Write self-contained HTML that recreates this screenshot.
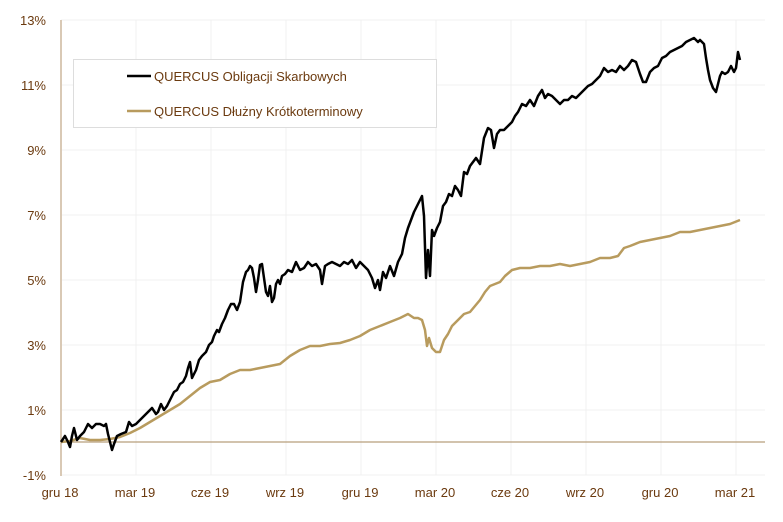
<!DOCTYPE html><html><head><meta charset="utf-8"><style>body{margin:0;background:#fff}svg{display:block;font-family:"Liberation Sans",sans-serif}</style></head><body>
<svg width="783" height="522" viewBox="0 0 783 522">
<g stroke="#f0f0f0" stroke-width="1">
<line x1="61" y1="20" x2="765" y2="20"/><line x1="61" y1="85" x2="765" y2="85"/><line x1="61" y1="150" x2="765" y2="150"/><line x1="61" y1="215" x2="765" y2="215"/><line x1="61" y1="280" x2="765" y2="280"/><line x1="61" y1="345" x2="765" y2="345"/><line x1="61" y1="410" x2="765" y2="410"/><line x1="61" y1="475" x2="765" y2="475"/>
<line x1="136" y1="20" x2="136" y2="475"/><line x1="211" y1="20" x2="211" y2="475"/><line x1="286" y1="20" x2="286" y2="475"/><line x1="361" y1="20" x2="361" y2="475"/><line x1="436" y1="20" x2="436" y2="475"/><line x1="511" y1="20" x2="511" y2="475"/><line x1="586" y1="20" x2="586" y2="475"/><line x1="661" y1="20" x2="661" y2="475"/><line x1="736" y1="20" x2="736" y2="475"/>
</g>
<line x1="61" y1="20" x2="61" y2="476" stroke="#d9c9b5" stroke-width="2"/>
<line x1="61" y1="442" x2="765" y2="442" stroke="#b89f7c" stroke-width="1.2"/>
<g fill="#6b3a0f" font-size="13" text-anchor="end">
<text x="46" y="25">13%</text><text x="46" y="90">11%</text><text x="46" y="155">9%</text><text x="46" y="220">7%</text><text x="46" y="285">5%</text><text x="46" y="350">3%</text><text x="46" y="415">1%</text><text x="46" y="480">-1%</text>
</g>
<g fill="#6b3a0f" font-size="13" text-anchor="middle">
<text x="60" y="497">gru 18</text><text x="135" y="497">mar 19</text><text x="210" y="497">cze 19</text><text x="285" y="497">wrz 19</text><text x="360" y="497">gru 19</text><text x="435" y="497">mar 20</text><text x="510" y="497">cze 20</text><text x="585" y="497">wrz 20</text><text x="660" y="497">gru 20</text><text x="735" y="497">mar 21</text>
</g>
<polyline fill="none" stroke="#b89b5e" stroke-width="2.5" stroke-linejoin="round" points="61,442 70,441 80,438 90,440 100,440 110,439 120,437 130,433 140,428 150,422 160,416 170,410 180,404 190,396 200,388 210,382 220,380 230,374 240,370 250,370 260,368 270,366 280,364 290,356 300,350 310,346 320,346 330,344 340,343 350,340 360,336 370,330 380,326 390,322 400,318 408,314 414,318 418,318 422,320 425,330 427,346 429,338 432,348 436,352 440,352 444,340 448,334 452,326 456,322 460,318 464,314 470,312 475,306 480,300 485,292 490,286 500,282 505,276 512,270 520,268 530,268 540,266 550,266 560,264 570,266 580,264 590,262 600,258 610,258 618,256 624,248 630,246 640,242 650,240 660,238 670,236 680,232 690,232 700,230 710,228 720,226 730,224 740,220"/>
<polyline fill="none" stroke="#000" stroke-width="2.5" stroke-linejoin="round" points="61,442 65,436 68,442 70,447 72,436 74,428 77,440 80,436 84,432 88,424 92,428 96,424 100,424 104,426 106,424 108,434 110,442 112,450 114,444 117,436 121,434 126,432 129,422 132,426 136,424 140,420 144,416 148,412 152,408 156,414 158,412 161,404 164,410 167,406 170,400 174,392 177,390 180,384 183,382 186,376 188,368 190,362 192,378 196,370 199,360 202,356 206,352 209,345 212,342 214,336 217,330 219,332 222,324 225,318 228,310 231,304 234,304 237,310 240,302 243,282 246,272 248,270 250,266 252,268 254,278 256,292 258,280 260,265 262,264 264,278 266,292 268,296 270,286 272,302 274,298 276,284 278,280 280,284 282,276 285,274 288,270 292,272 296,262 300,270 304,268 308,262 312,266 316,264 320,270 322,284 325,266 328,264 332,262 336,264 340,266 344,262 348,264 352,260 356,268 360,262 364,266 368,270 372,278 375,288 378,280 380,290 383,272 386,278 390,266 394,276 398,262 402,254 405,238 408,228 411,220 414,212 417,206 420,200 422,196 424,216 426,278 428,250 430,276 432,230 434,236 437,228 440,222 443,206 446,202 449,194 452,196 455,186 458,190 461,196 464,172 467,174 470,166 473,162 476,158 480,164 484,138 488,128 491,130 494,148 497,134 500,130 504,130 508,126 512,122 515,116 518,112 522,104 526,106 530,100 534,106 538,96 542,90 545,98 548,94 552,96 556,100 560,104 564,100 568,100 572,96 576,98 580,94 584,90 588,86 592,84 596,80 600,76 604,68 608,72 612,70 616,72 620,66 624,70 628,66 632,60 636,62 640,74 643,82 646,82 650,72 654,68 658,66 662,58 666,56 670,52 674,50 678,48 682,46 686,42 690,40 694,38 698,42 700,40 704,44 706,58 708,70 710,80 713,88 716,92 718,84 720,76 722,72 725,74 728,72 731,66 734,72 736,68 738,52 740,60"/>
<rect x="73.5" y="59.5" width="363" height="68" fill="#fff" stroke="#ddd"/>
<line x1="127" y1="76" x2="151" y2="76" stroke="#000" stroke-width="2.5"/>
<line x1="127" y1="111" x2="151" y2="111" stroke="#b89b5e" stroke-width="2.5"/>
<g fill="#6b3a0f" font-size="13"><text x="154" y="81">QUERCUS Obligacji Skarbowych</text><text x="154" y="116">QUERCUS Dłużny Krótkoterminowy</text></g>
</svg></body></html>
